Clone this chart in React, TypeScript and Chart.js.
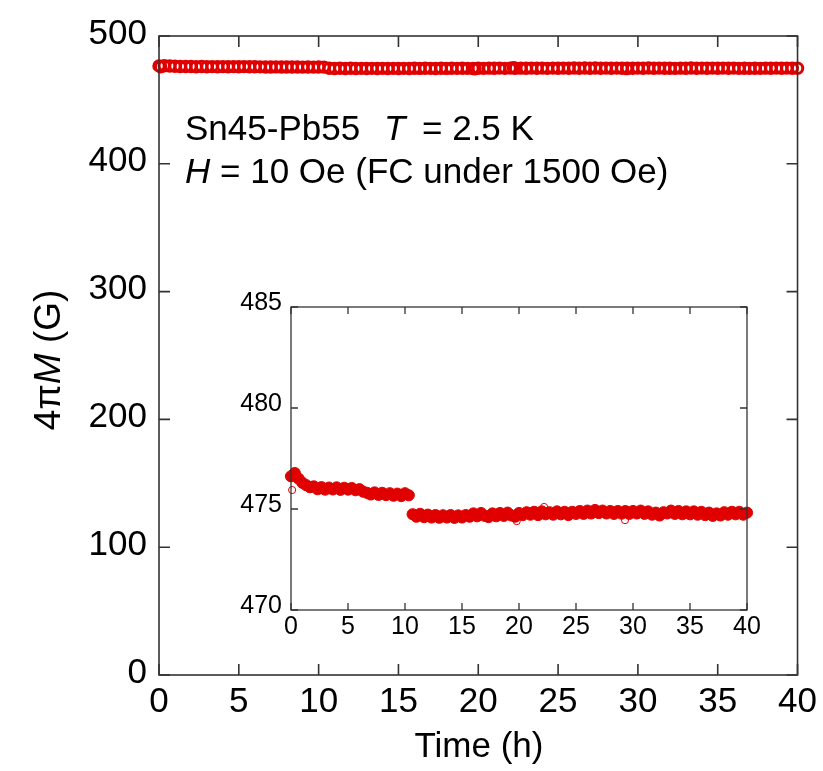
import React, { useEffect, useRef } from "react";
import { Chart, registerables } from "chart.js";

Chart.register(...registerables);

const FONT = '"Liberation Sans", Arial, Helvetica, sans-serif';
const RED = "#e00000";
const FRAME = "#333333";

// Time (h)
const timeH = [
  0, 0.33, 0.67, 1, 1.33, 1.67, 2, 2.33, 2.67, 3, 3.33, 3.67, 4, 4.33, 4.67,
  5, 5.33, 5.67, 6, 6.33, 6.67, 7, 7.33, 7.67, 8, 8.33, 8.67, 9, 9.33, 9.67,
  10, 10.33, 10.67, 11, 11.33, 11.67, 12, 12.33, 12.67, 13, 13.33, 13.67, 14, 14.33, 14.67,
  15, 15.33, 15.67, 16, 16.33, 16.67, 17, 17.33, 17.67, 18, 18.33, 18.67, 19, 19.33, 19.67,
  20, 20.33, 20.67, 21, 21.33, 21.67, 22, 22.33, 22.67, 23, 23.33, 23.67, 24, 24.33, 24.67,
  25, 25.33, 25.67, 26, 26.33, 26.67, 27, 27.33, 27.67, 28, 28.33, 28.67, 29, 29.33, 29.67,
  30, 30.33, 30.67, 31, 31.33, 31.67, 32, 32.33, 32.67, 33, 33.33, 33.67, 34, 34.33, 34.67,
  35, 35.33, 35.67, 36, 36.33, 36.67, 37, 37.33, 37.67, 38, 38.33, 38.67, 39, 39.33, 39.67,
  40,
];

// 4πM (G)
const fourPiM = [
  476.62, 476.78, 476.5, 476.3, 476.18, 476.08, 476.12, 475.98, 476.08, 475.96, 476.06, 475.97, 476.07, 475.95, 476.05,
  475.96, 476.04, 475.93, 475.98, 475.86, 475.8, 475.72, 475.82, 475.7, 475.8, 475.69, 475.78, 475.66, 475.76, 475.64,
  475.78, 475.68, 474.74, 474.62, 474.76, 474.6, 474.72, 474.58, 474.7, 474.57, 474.69, 474.58, 474.7, 474.56, 474.68,
  474.58, 474.7, 474.62, 474.78, 474.64, 474.8, 474.66, 474.6, 474.78, 474.64, 474.8, 474.66, 474.82, 474.68, 474.62,
  474.8, 474.7, 474.84, 474.72, 474.86, 474.7, 474.88, 474.74, 474.84, 474.72, 474.88, 474.74, 474.86, 474.7, 474.86,
  474.76, 474.9, 474.76, 474.92, 474.78, 474.95, 474.8, 474.92, 474.78, 474.9, 474.76, 474.9, 474.77, 474.9, 474.76,
  474.9, 474.78, 474.92, 474.76, 474.88, 474.72, 474.82, 474.68, 474.84, 474.78, 474.92, 474.76, 474.9, 474.74, 474.88,
  474.74, 474.88, 474.72, 474.86, 474.7, 474.82, 474.66, 474.78, 474.68, 474.84, 474.72, 474.86, 474.74, 474.86, 474.72,
  474.82,
];

// scattered individual readings visible as open circles in the inset
const strayTimeH = [0.1, 19.8, 22.2, 29.3];
const strayM = [475.94, 474.4, 475.1, 474.45];

const mainXTicks = [0, 5, 10, 15, 20, 25, 30, 35, 40];
const mainYTicks = [0, 100, 200, 300, 400, 500];
const insetXTicks = [0, 5, 10, 15, 20, 25, 30, 35, 40];
const insetYTicks = [470, 475, 480, 485];

const pts = (xs: number[], ys: number[]) => xs.map((x, i) => ({ x, y: ys[i] }));

const frameTicks = {
  id: "frameTicks",
  afterDatasetsDraw(chart: any, _args: any, opts: any) {
    const { ctx, chartArea } = chart;
    const { left, right, top, bottom } = chartArea;
    const L = opts.len;
    ctx.save();
    ctx.strokeStyle = opts.color;
    ctx.lineWidth = opts.width;
    ctx.beginPath();
    const xs = chart.scales.x;
    const ys = chart.scales.y;
    xs.ticks.forEach((t: any) => {
      const px = xs.getPixelForValue(t.value);
      ctx.moveTo(px, bottom);
      ctx.lineTo(px, bottom - L);
      ctx.moveTo(px, top);
      ctx.lineTo(px, top + L);
    });
    ys.ticks.forEach((t: any) => {
      const py = ys.getPixelForValue(t.value);
      ctx.moveTo(left, py);
      ctx.lineTo(left + L, py);
      ctx.moveTo(right, py);
      ctx.lineTo(right - L, py);
    });
    ctx.stroke();
    ctx.strokeRect(left, top, right - left, bottom - top);
    ctx.restore();
  },
};

const drawParts = (ctx: any, parts: { t: string; it?: boolean }[], x: number, y: number, size: number) => {
  let cx = x;
  parts.forEach((p) => {
    ctx.font = `${p.it ? "italic " : ""}${size}px ${FONT}`;
    ctx.fillText(p.t, cx, y);
    cx += ctx.measureText(p.t).width;
  });
};

const mainText = {
  id: "mainText",
  afterDraw(chart: any) {
    const { ctx } = chart;
    ctx.save();
    ctx.fillStyle = "#000";
    ctx.textBaseline = "alphabetic";
    ctx.textAlign = "left";
    // annotation
    drawParts(ctx, [{ t: "Sn45-Pb55" }], 185, 140, 35);
    drawParts(ctx, [{ t: "T", it: true }], 384, 140, 35);
    drawParts(ctx, [{ t: "= 2.5 K" }], 422, 140, 35);
    drawParts(ctx, [{ t: "H", it: true }, { t: " = 10 Oe (FC under 1500 Oe)" }], 185, 183, 35);
    // x title
    ctx.font = `35px ${FONT}`;
    ctx.textAlign = "center";
    ctx.textBaseline = "middle";
    ctx.fillText("Time (h)", 479, 747);
    // y title (rotated)
    const parts = [{ t: "4\u03c0" }, { t: "M", it: true }, { t: " (G)" }];
    let total = 0;
    parts.forEach((p: any) => {
      ctx.font = `${p.it ? "italic " : ""}37px ${FONT}`;
      total += ctx.measureText(p.t).width;
    });
    ctx.translate(60, 360);
    ctx.rotate(-Math.PI / 2);
    ctx.textAlign = "left";
    ctx.textBaseline = "alphabetic";
    drawParts(ctx, parts, -total / 2, 0, 37);
    ctx.restore();
  },
};

export default function App() {
  const mainRef = useRef<HTMLCanvasElement>(null);
  const insetRef = useRef<HTMLCanvasElement>(null);

  useEffect(() => {
    const mainChart = new Chart(mainRef.current as HTMLCanvasElement, {
      type: "scatter",
      data: {
        datasets: [
          {
            data: pts(timeH, fourPiM),
            pointRadius: 5.2,
            pointBorderWidth: 3,
            pointBackgroundColor: "rgba(0,0,0,0)",
            pointBorderColor: RED,
            clip: false,
          } as any,
          {
            data: pts(strayTimeH, strayM),
            pointRadius: 5.2,
            pointBorderWidth: 3,
            pointBackgroundColor: "rgba(0,0,0,0)",
            pointBorderColor: RED,
            clip: false,
          } as any,
        ],
      },
      options: {
        animation: false,
        responsive: false,
        events: [],
        layout: { padding: { left: 0, right: 25, top: 36, bottom: 0 } },
        plugins: {
          legend: { display: false },
          tooltip: { enabled: false },
          frameTicks: { len: 11, color: FRAME, width: 1.6 },
        } as any,
        scales: {
          x: {
            type: "linear",
            min: 0,
            max: 40,
            afterBuildTicks: (s: any) => {
              s.ticks = mainXTicks.map((v) => ({ value: v }));
            },
            afterFit: (s: any) => {
              s.height = 96;
            },
            grid: { display: false, drawTicks: false },
            border: { display: false },
            ticks: { font: { family: FONT, size: 35 }, color: "#000", padding: 6, maxRotation: 0, autoSkip: false },
          },
          y: {
            type: "linear",
            min: 0,
            max: 500,
            afterBuildTicks: (s: any) => {
              s.ticks = mainYTicks.map((v) => ({ value: v }));
            },
            afterFit: (s: any) => {
              s.width = 159;
            },
            grid: { display: false, drawTicks: false },
            border: { display: false },
            ticks: { font: { family: FONT, size: 35 }, color: "#000", padding: 12, labelOffset: -2, autoSkip: false },
          },
        },
      },
      plugins: [frameTicks, mainText],
    } as any);

    const insetChart = new Chart(insetRef.current as HTMLCanvasElement, {
      type: "scatter",
      data: {
        datasets: [
          {
            data: pts(timeH, fourPiM),
            pointRadius: 5.6,
            pointBorderWidth: 1,
            pointBackgroundColor: RED,
            pointBorderColor: RED,
            clip: false,
          } as any,
          {
            data: pts(strayTimeH, strayM),
            pointRadius: 3.6,
            pointBorderWidth: 1,
            pointBackgroundColor: "rgba(255,255,255,0)",
            pointBorderColor: RED,
            clip: false,
          } as any,
        ],
      },
      options: {
        animation: false,
        responsive: false,
        events: [],
        layout: { padding: { left: 221, right: 76, top: 307, bottom: 111 } },
        plugins: {
          legend: { display: false },
          tooltip: { enabled: false },
          frameTicks: { len: 7, color: FRAME, width: 1.3 },
        } as any,
        scales: {
          x: {
            type: "linear",
            min: 0,
            max: 40,
            afterBuildTicks: (s: any) => {
              s.ticks = insetXTicks.map((v) => ({ value: v }));
            },
            afterFit: (s: any) => {
              s.height = 50;
            },
            grid: { display: false, drawTicks: false },
            border: { display: false },
            ticks: { font: { family: FONT, size: 25 }, color: "#000", padding: 2, maxRotation: 0, autoSkip: false },
          },
          y: {
            type: "linear",
            min: 470,
            max: 485,
            afterBuildTicks: (s: any) => {
              s.ticks = insetYTicks.map((v) => ({ value: v }));
            },
            afterFit: (s: any) => {
              s.width = 70;
            },
            grid: { display: false, drawTicks: false },
            border: { display: false },
            ticks: { font: { family: FONT, size: 25 }, color: "#000", padding: 9, labelOffset: -4, autoSkip: false },
          },
        },
      },
      plugins: [frameTicks],
    } as any);

    return () => {
      mainChart.destroy();
      insetChart.destroy();
    };
  }, []);

  const cstyle: React.CSSProperties = { position: "absolute", left: 0, top: 0, display: "block" };
  return (
    <div style={{ position: "absolute", left: 0, top: 0, width: 823, height: 771, background: "#fff" }}>
      <canvas ref={mainRef} width={823} height={771} style={cstyle} />
      <canvas ref={insetRef} width={823} height={771} style={cstyle} />
    </div>
  );
}
